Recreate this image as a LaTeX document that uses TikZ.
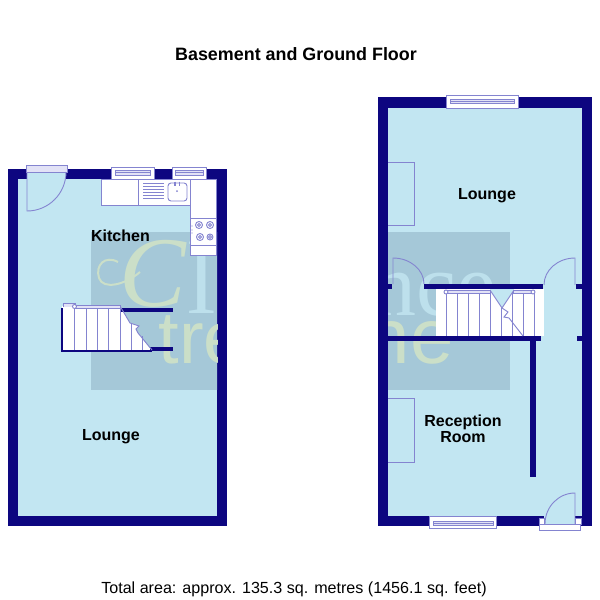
\documentclass[tikz,border=0pt]{standalone}
\usepackage{fontspec}
\setmainfont{Liberation Sans}
\newfontfamily\markfont{Liberation Serif}
\definecolor{wallblue}{HTML}{0D0680}
\definecolor{roomblue}{HTML}{C2E6F2}
\definecolor{markblue}{HTML}{A5C8D8}
\definecolor{markpale}{HTML}{BDE0EC}
\definecolor{markgreen}{HTML}{CBDFC8}
\definecolor{planline}{HTML}{8484D0}
\definecolor{sillfill}{HTML}{E2E2F6}

\tikzstyle{wall}=[fill=wallblue]
\tikzstyle{room}=[fill=roomblue]
\tikzstyle{plan}=[draw=planline, line width=0.9pt]
\tikzstyle{unit}=[plan, fill=white]
\tikzstyle{sill}=[plan, fill=sillfill, line width=0.7pt]
\tikzstyle{label}=[font=\bfseries\fontsize{16}{17.5}\selectfont, align=center, text=black]

\begin{document}
\begin{tikzpicture}[x=1pt, y=-1pt]
\useasboundingbox (0,0) rectangle (600,600);

% walls and rooms
\fill[wall] (8,169) rectangle (227,526);
\fill[room] (18,179) rectangle (217,516);
\fill[wall] (378,97) rectangle (592,526);
\fill[room] (388,108) rectangle (582,516);

% watermark
\begin{scope}
\clip (18,179) rectangle (217,516) (388,108) rectangle (582,516);
\fill[markblue] (91,232) rectangle (510,390);
\node[text=markgreen, font=\markfont\itshape\fontsize{100}{100}\selectfont, anchor=base west](markc) at (116,306) {C};
\draw[markgreen, line width=2pt] (118,262) .. controls (105,255) and (95,265) .. (99,278) .. controls (103,290) and (125,285) .. (140,272);
\node[text=markpale, font=\markfont\fontsize{103}{103}\selectfont, anchor=base west](markla) at (184,313) {la};
\node[text=markgreen, font=\fontsize{74}{74}\selectfont, anchor=base west](marktre) at (155,363) {tre};
\node[text=markpale, font=\markfont\fontsize{90}{90}\selectfont, anchor=base west](marknce) at (368,315) {nce};
\node[text=markgreen, font=\fontsize{78}{78}\selectfont, anchor=base east](markne) at (457,363) {ne};
\end{scope}

% left door and windows
\fill[room] (27,169) rectangle (66,179);
\draw[sill] (26,165) rectangle (67,172);
\draw[plan] (27,172) -- (27,211) arc (90:0:39);
\draw[unit] (111,167) rectangle (154,179);
\draw[sill] (115,170) rectangle (150,175);
\draw[plan, line width=0.6pt] (115,172.5) -- (150,172.5);
\draw[unit] (172,167) rectangle (206,179);
\draw[sill] (175,170) rectangle (203,175);
\draw[plan, line width=0.6pt] (175,172.5) -- (203,172.5);

% kitchen units
\draw[unit] (101,179) -- (216,179) -- (216,255) -- (190,255) -- (190,205) -- (101,205) -- cycle;
\draw[plan] (138.5,179) -- (138.5,205);
\draw[plan] (190,179) -- (190,205);
\draw[plan] (143,183) -- (164,183);
\draw[plan] (143,186) -- (164,186);
\draw[plan] (143,189) -- (164,189);
\draw[plan] (143,192) -- (164,192);
\draw[plan] (143,195) -- (164,195);
\draw[plan] (143,198) -- (164,198);
\draw[plan, rounded corners=3pt] (168,183) rectangle (187,201);
\draw[plan, line width=1.6pt] (175,181.5) -- (175,186);
\draw[plan, line width=1.6pt] (179.5,181.5) -- (179.5,186);
\fill[planline] (177,191) circle (1);
\draw[plan] (190,218) -- (216,218);
\draw[plan] (190,245) -- (216,245);
\draw[plan] (199,225) circle (3.5);
\draw[plan] (199,225) circle (1.5);
\draw[plan] (210,225) circle (3.5);
\draw[plan] (210,225) circle (1.5);
\draw[plan] (200,237) circle (3.5);
\draw[plan] (200,237) circle (1.5);
\draw[plan] (210,237) circle (3);
\draw[plan] (210,237) circle (1.5);
\fill[planline] (192,226) circle (0.7);
\fill[planline] (192,230) circle (0.7);
\fill[planline] (192,233) circle (0.7);

% left stairs
\fill[white] (62,306) -- (120,306) -- (130,323) -- (139,326) -- (136,329) -- (138,333) -- (152,351) -- (62,351) -- cycle;
\fill[wall] (120,308) rectangle (173,312);
\fill[wall] (150,347) rectangle (173,351);
\fill[wall] (61,308) rectangle (63,352);
\fill[wall] (61,350) rectangle (152,352);
\draw[plan] (74,306) -- (74,350);
\draw[plan] (86,306) -- (86,350);
\draw[plan] (97,306) -- (97,350);
\draw[plan] (108,306) -- (108,350);
\draw[plan] (120,306) -- (120,350);
\draw[plan] (131,323) -- (131,350);
\draw[plan] (142,336) -- (142,350);
\draw[plan] (120,306) -- (130,323) -- (139,326) -- (136,329) -- (138,333) -- (152,350);
\draw[sill] (75,305.5) rectangle (120,308.5);
\draw[unit, fill=sillfill] (63,307) -- (63,303) -- (75,303) -- (75,307);
\draw[unit] (74.5,306.5) circle (2);

% right windows
\draw[unit] (446,95) rectangle (518,108);
\draw[sill] (450,99) rectangle (514,103);
\draw[plan, line width=0.6pt] (450,101) -- (514,101);
\draw[unit] (429,516) rectangle (496,528);
\draw[sill] (433,521) rectangle (493,525);
\draw[plan, line width=0.6pt] (433,523) -- (493,523);

% fireplaces
\draw[plan] (388,162) -- (414,162) -- (414,225) -- (388,225);
\draw[plan] (388,398) -- (414,398) -- (414,462) -- (388,462);

% right inner walls
\fill[white] (436,289) rectangle (544,336);
\fill[wall] (388,284) rectangle (392,289);
\fill[wall] (424,284) rectangle (543,289);
\fill[wall] (576,284) rectangle (582,289);
\fill[wall] (388,336) rectangle (541,341);
\fill[wall] (577,336) rectangle (582,341);
\fill[wall] (530,341) rectangle (536,477);

% right stairs
\draw[plan] (446,292) -- (446,336);
\draw[plan] (457,292) -- (457,336);
\draw[plan] (468,292) -- (468,336);
\draw[plan] (479,292) -- (479,336);
\draw[plan] (490,292) -- (490,336);
\draw[plan] (501,308) -- (501,336);
\draw[plan] (512,292) -- (512,336);
\draw[plan] (523,292) -- (523,336);
\draw[plan] (534,292) -- (534,336);
\draw[sill] (446,290) rectangle (490,293);
\draw[sill] (513,290) rectangle (534,293);
\fill[roomblue] (490,289) -- (514,289) -- (502,308) -- cycle;
\draw[plan] (490,290) -- (502,308) -- (514,290);
\draw[plan] (502,308) -- (508,312) -- (504,317) -- (509,318) -- (523,336);
\draw[unit] (446,292) circle (2);
\draw[unit] (533,292) circle (2);

% inner doors
\draw[plan] (393,284) -- (393,258) arc (-90:0:31 and 26);
\draw[plan] (575,285) -- (575,258) arc (-90:-180:31 and 27);

% front door
\fill[room] (544,516) rectangle (575,526);
\fill[white] (539,518) rectangle (544,526);
\fill[white] (575,518) rectangle (581,526);
\draw[plan, line width=0.6pt] (539,518) rectangle (544,524);
\draw[plan, line width=0.6pt] (575,518) rectangle (581,524);
\draw[unit] (539,524) rectangle (580,530);
\draw[plan] (575,524) -- (575,493) arc (-90:-180:30 and 31);

% text
\node[font=\bfseries\fontsize{17.9}{20}\selectfont](title) at (296,54) {Basement and Ground Floor};
\node[label](kitchen) at (120.5,236) {Kitchen};
\node[label](loungeleft) at (111,437) {Lounge};
\node[label](loungeright) at (487,196) {Lounge};
\node[label](reception) at (463,429) {Reception\\[-1.5pt]Room};
\node[font=\fontsize{16.1}{18}\selectfont](area) at (294,589.5) {Total area: approx. 135.3 sq. metres (1456.1 sq. feet)};
\end{tikzpicture}
\end{document}
